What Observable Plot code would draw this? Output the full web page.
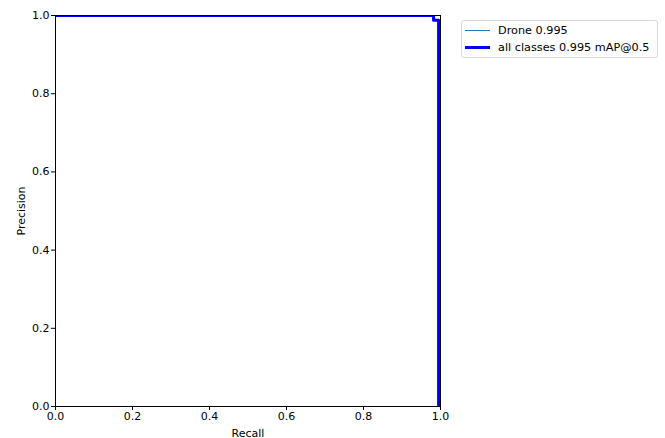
<!DOCTYPE html>
<html><head><meta charset="utf-8">
<script src="https://cdn.jsdelivr.net/npm/d3@7"></script>
<script src="https://cdn.jsdelivr.net/npm/@observablehq/plot@0.6"></script>
<style>
body{margin:0;background:#fff;font-family:"DejaVu Sans",sans-serif;}
#wrap{position:relative;width:665px;height:438px;}
#legend{position:absolute;left:461px;top:20px;width:195px;height:36px;border:1px solid #d9d9d9;border-radius:3px;background:#fff;font-size:11.25px;color:#000;}
.row{position:absolute;left:3px;height:14px;display:flex;align-items:center;white-space:nowrap;}
.sw{width:25px;margin-right:8px;}
</style></head><body>
<div id="wrap"><div id="chart"></div><div id="legend"></div></div>
<script>
const seriesNames = ["Drone 0.995", "all classes 0.995 mAP@0.5"];
const droneRecall = [0, 0.982, 0.982, 0.995, 0.995];
const dronePrecision = [1, 1, 0.988, 0.988, 0];
const allRecall = [0, 0.982, 0.982, 0.995, 0.995];
const allPrecision = [1, 1, 0.988, 0.988, 0];
const ticks = [0, 0.2, 0.4, 0.6, 0.8, 1.0];
const colors = ["#1f77b4", "#0000ff"];
const widths = [1, 3];

const drone = droneRecall.map((r, i) => ({recall: r, precision: dronePrecision[i]}));
const all = allRecall.map((r, i) => ({recall: r, precision: allPrecision[i]}));

const chart = Plot.plot({
  width: 665, height: 438,
  marginLeft: 55, marginRight: 225, marginTop: 15, marginBottom: 32,
  style: {fontFamily: "DejaVu Sans", fontSize: "11px", color: "#000", background: "#fff"},
  x: {domain: [0, 1]},
  y: {domain: [0, 1]},
  marks: [
    Plot.line(drone, {x: "recall", y: "precision", stroke: colors[0], strokeWidth: widths[0], clip: true}),
    Plot.line(all, {x: "recall", y: "precision", stroke: colors[1], strokeWidth: widths[1], clip: true}),
    Plot.frame({stroke: "#000", strokeWidth: 1}),
    Plot.axisX({ticks: ticks, tickFormat: d3.format(".1f"), tickSize: 4, tickPadding: 2, fontSize: 11, label: "Recall", labelAnchor: "center", labelArrow: "none", labelOffset: 30}),
    Plot.axisY({ticks: ticks, tickFormat: d3.format(".1f"), tickSize: 4, tickPadding: 2, fontSize: 11, label: "Precision", labelAnchor: "center", labelArrow: "none", labelOffset: 38})
  ]
});
document.getElementById("chart").appendChild(chart);

const lg = document.getElementById("legend");
seriesNames.forEach((n, i) => {
  const row = document.createElement("div");
  row.className = "row";
  row.style.top = (i === 0 ? 2.5 : 19.5) + "px";
  row.innerHTML = `<div class="sw" style="height:${widths[i]}px;background:${colors[i]}"></div><span>${n}</span>`;
  lg.appendChild(row);
});
</script>
</body></html>
